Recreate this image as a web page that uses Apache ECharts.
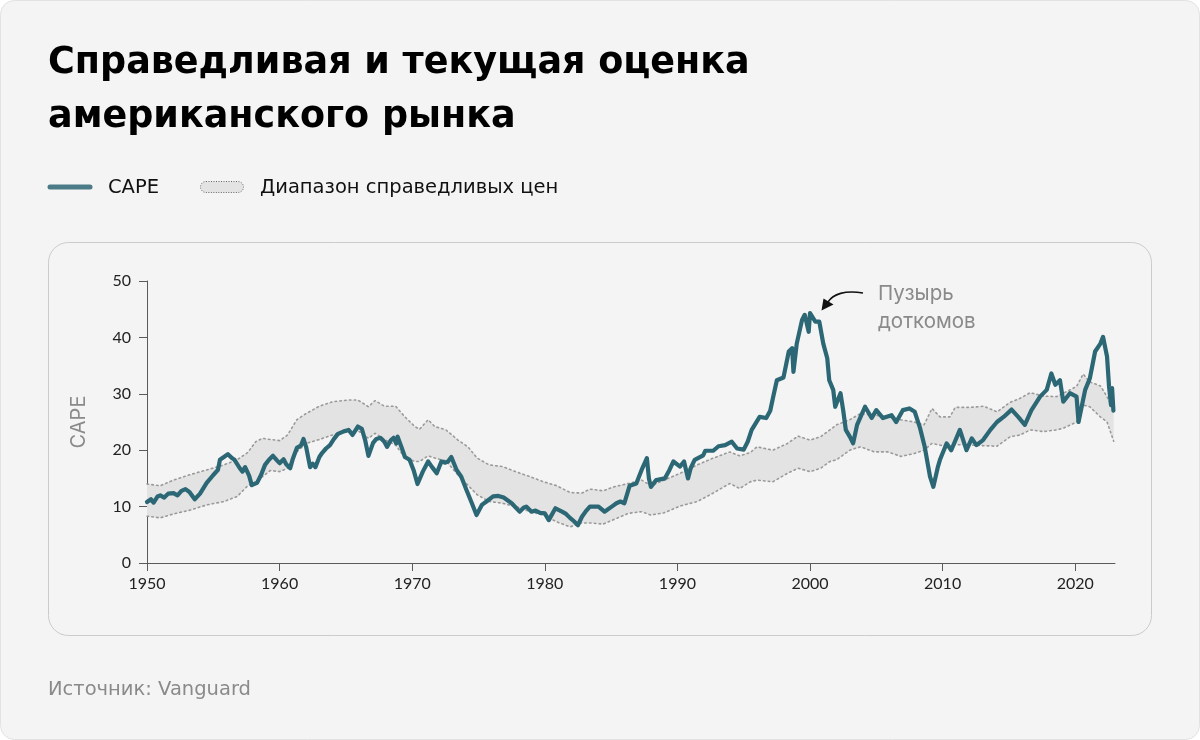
<!DOCTYPE html>
<html>
<head>
<meta charset="utf-8">
<script src="https://cdn.jsdelivr.net/npm/echarts@6/dist/echarts.min.js"></script>
<style>
  html, body { margin: 0; padding: 0; background: #ffffff; }
  #chart { width: 1200px; height: 740px; }
</style>
</head>
<body>
<div id="chart"></div>
<script>
// ---- Data ----
const titleLines = ['Справедливая и текущая оценка', 'американского рынка'];
const legendLabels = ['CAPE', 'Диапазон справедливых цен'];
const yAxisName = 'CAPE';
const annotationLines = ['Пузырь', 'доткомов'];
const sourceText = 'Источник: Vanguard';

const xTicks = [1950, 1960, 1970, 1980, 1990, 2000, 2010, 2020];
const yTicks = [0, 10, 20, 30, 40, 50];

const capeYears = [
  1950.0, 1950.3, 1950.5, 1950.8, 1951.0, 1951.3, 1951.6, 1952.0, 1952.3, 1952.6,
  1952.9, 1953.2, 1953.6, 1954.0, 1954.5, 1955.0, 1955.35, 1955.5, 1955.8, 1956.1,
  1956.4, 1956.6, 1957.0, 1957.2, 1957.4, 1957.7, 1957.9, 1958.3, 1958.6, 1958.9,
  1959.2, 1959.5, 1959.8, 1960.0, 1960.3, 1960.5, 1960.8, 1961.0, 1961.3, 1961.6,
  1961.8, 1962.0, 1962.3, 1962.5, 1962.7, 1963.0, 1963.2, 1963.5, 1963.8, 1964.1,
  1964.4, 1964.8, 1965.2, 1965.5, 1965.9, 1966.2, 1966.45, 1966.7, 1967.05, 1967.3,
  1967.6, 1967.9, 1968.1, 1968.4, 1968.6, 1968.8, 1968.9, 1969.2, 1969.45, 1969.8,
  1970.1, 1970.4, 1970.8, 1971.2, 1971.5, 1971.85, 1972.2, 1972.5, 1972.7, 1972.95,
  1973.35, 1973.7, 1974.1, 1974.5, 1974.85, 1975.25, 1975.6, 1976.1, 1976.5, 1976.9,
  1977.5, 1978.1, 1978.4, 1978.6, 1979.0, 1979.3, 1979.65, 1980.0, 1980.3, 1980.8,
  1981.3, 1981.6, 1981.9, 1982.2, 1982.5, 1982.8, 1983.1, 1983.4, 1984.05, 1984.5,
  1985.05, 1985.4, 1985.7, 1986.0, 1986.4, 1986.9, 1987.3, 1987.7, 1987.85, 1988.0,
  1988.4, 1989.05, 1989.4, 1989.7, 1990.2, 1990.5, 1990.8, 1991.0, 1991.3, 1991.95,
  1992.1, 1992.7, 1993.1, 1993.6, 1994.1, 1994.5, 1995.0, 1995.3, 1995.6, 1996.2,
  1996.7, 1997.0, 1997.2, 1997.5, 1998.0, 1998.4, 1998.65, 1998.75, 1999.0, 1999.4,
  1999.6, 1999.9, 2000.0, 2000.4, 2000.7, 2001.0, 2001.3, 2001.45, 2001.75, 2001.9,
  2002.3, 2002.5, 2002.7, 2003.0, 2003.25, 2003.55, 2004.15, 2004.65, 2005.0, 2005.5,
  2006.15, 2006.5, 2007.0, 2007.5, 2007.9, 2008.3, 2008.65, 2009.05, 2009.3, 2009.65,
  2009.8, 2010.3, 2010.65, 2011.3, 2011.8, 2012.2, 2012.55, 2013.05, 2013.6, 2014.1,
  2014.6, 2015.2, 2015.7, 2016.2, 2016.7, 2017.35, 2017.85, 2018.2, 2018.5, 2018.85,
  2019.1, 2019.6, 2020.1, 2020.25, 2020.75, 2021.1, 2021.5, 2021.9, 2022.1, 2022.4,
  2022.55, 2022.7, 2022.78, 2022.88
];
const capeValues = [
  10.8, 11.3, 10.7, 11.8, 12.0, 11.6, 12.3, 12.4, 12.0, 12.8,
  13.1, 12.6, 11.3, 12.3, 14.2, 15.6, 16.5, 18.3, 18.8, 19.3,
  18.6, 18.3, 16.8, 16.2, 17.0, 15.5, 13.8, 14.2, 15.6, 17.4,
  18.3, 19.0, 18.2, 17.7, 18.4, 17.5, 16.8, 18.5, 20.4, 20.8,
  22.0, 20.6, 17.0, 17.6, 17.0, 18.8, 19.5, 20.3, 20.9, 22.0,
  22.9, 23.3, 23.6, 22.7, 24.2, 23.8, 21.8, 19.0, 21.3, 22.0,
  22.2, 21.5, 20.6, 21.8, 22.2, 21.2, 22.4, 20.5, 18.8, 18.3,
  16.5, 14.0, 16.2, 18.0, 17.0, 15.9, 18.0, 17.8, 18.0, 18.8,
  16.5, 15.3, 12.9, 10.6, 8.5, 10.3, 10.9, 11.8, 11.9, 11.6,
  10.6, 9.1, 9.8, 10.0, 9.1, 9.3, 8.9, 8.8, 7.6, 9.7,
  9.1, 8.7, 8.0, 7.4, 6.7, 8.2, 9.2, 10.0, 10.0, 9.1,
  10.0, 10.6, 10.9, 10.6, 13.7, 14.1, 16.5, 18.6, 15.0, 13.5,
  14.7, 15.0, 16.5, 18.0, 17.1, 18.0, 15.0, 16.8, 18.3, 19.1,
  19.9, 19.9, 20.7, 20.9, 21.5, 20.3, 20.1, 21.5, 23.6, 25.9,
  25.7, 27.0, 29.2, 32.4, 32.9, 37.5, 38.1, 33.9, 38.9, 43.1,
  44.0, 41.0, 44.3, 42.8, 42.8, 38.9, 36.3, 32.4, 30.7, 27.7,
  30.1, 27.1, 23.6, 22.4, 21.2, 24.5, 27.7, 25.7, 27.1, 25.7,
  26.2, 25.0, 27.1, 27.4, 26.8, 23.9, 20.6, 15.3, 13.5, 17.1,
  18.3, 21.2, 20.0, 23.6, 20.0, 22.1, 20.9, 21.8, 23.6, 25.0,
  25.9, 27.2, 25.9, 24.5, 27.1, 29.5, 30.7, 33.6, 31.6, 32.4,
  28.6, 30.1, 29.5, 25.0, 30.7, 32.7, 37.5, 38.9, 40.1, 36.6,
  31.3, 28.0, 31.0, 27.0
];

const bandYears = [
  1950.0, 1951.0, 1952.0, 1953.3, 1954.5, 1955.8, 1956.8, 1957.6, 1958.2, 1958.7,
  1959.3, 1960.0, 1960.6, 1961.3, 1962.0, 1963.0, 1964.0, 1965.2, 1965.9, 1966.7,
  1967.2, 1967.9, 1968.75, 1969.45, 1970.2, 1970.55, 1971.2, 1971.7, 1972.55, 1973.45,
  1974.2, 1974.9, 1975.8, 1976.8, 1977.8, 1978.9, 1979.9, 1980.9, 1981.9, 1982.8,
  1983.4, 1984.4, 1985.2, 1986.3, 1987.3, 1988.0, 1989.0, 1990.2, 1991.5, 1992.7,
  1993.95, 1994.7, 1995.5, 1996.0, 1997.2, 1998.3, 1999.1, 2000.0, 2000.8, 2001.5,
  2002.0, 2003.0, 2003.8, 2004.85, 2005.85, 2006.85, 2007.85, 2008.6, 2009.2, 2009.8,
  2010.55, 2010.95, 2012.1, 2013.1, 2014.1, 2015.1, 2015.85, 2016.6, 2017.6, 2018.6,
  2019.1, 2020.1, 2020.6, 2021.1, 2021.9, 2022.4, 2022.9
];
const bandLower = [
  8.3, 8.0, 8.7, 9.4, 10.3, 10.9, 11.8, 13.7, 14.4, 15.3,
  16.4, 16.2, 16.8, 19.7, 21.2, 21.9, 22.7, 23.3, 23.5, 22.1,
  23.0, 21.9, 20.9, 18.7, 18.0, 18.0, 19.0, 18.6, 18.1, 15.6,
  13.8, 12.1, 10.9, 10.6, 10.0, 9.1, 8.5, 7.3, 6.4, 7.1,
  7.1, 6.9, 7.7, 8.8, 9.1, 8.5, 8.9, 10.1, 10.9, 12.4,
  14.1, 13.2, 14.4, 14.7, 14.4, 15.9, 16.8, 16.2, 16.8, 18.0,
  18.3, 20.0, 20.6, 19.7, 19.7, 18.9, 19.4, 20.0, 21.2, 20.9,
  20.6, 21.0, 20.9, 20.8, 20.7, 22.4, 22.7, 23.6, 23.3, 23.6,
  23.9, 25.0, 28.0, 27.7, 25.9, 25.0, 21.6
];
const bandUpper = [
  14.0, 13.7, 14.7, 15.7, 16.5, 17.4, 18.3, 19.6, 21.5, 22.1,
  21.9, 21.7, 22.7, 25.4, 26.5, 27.8, 28.6, 28.9, 28.9, 27.7,
  28.8, 27.8, 27.8, 25.9, 24.2, 23.7, 25.4, 24.2, 23.6, 21.8,
  20.6, 18.6, 17.4, 17.1, 16.2, 15.3, 14.4, 13.7, 12.5, 12.4,
  13.1, 12.8, 13.5, 14.1, 14.7, 13.7, 14.7, 15.9, 17.4, 18.6,
  19.7, 19.0, 19.6, 20.6, 20.0, 21.2, 22.5, 21.8, 22.4, 23.6,
  24.5, 25.4, 26.5, 26.2, 25.9, 25.4, 25.0, 24.5, 27.4, 25.9,
  25.9, 27.6, 27.6, 27.8, 26.8, 28.5, 29.2, 30.2, 29.6, 29.5,
  30.1, 31.3, 33.5, 32.1, 31.4, 29.5, 27.0
];

// ---- Styles ----
const CAPE_COLOR = '#2b6774';
const BAND_FILL = '#e3e3e3';
const BAND_LINE = '#9a9a9a';
const BG = '#f4f4f4';
const MAIN_FONT = '"DejaVu Sans"';

const capeData = capeYears.map((x, i) => [x, capeValues[i]]);
const lowerData = bandYears.map((x, i) => [x, bandLower[i]]);
const upperData = bandYears.map((x, i) => [x, bandUpper[i]]);
const bandData = bandYears.map((x, i) => [x, bandLower[i], bandUpper[i]]);

const chart = echarts.init(document.getElementById('chart'), null, { renderer: 'canvas' });

const dotted = { color: BAND_LINE, width: 1.6, type: [1.6, 3.2], cap: 'round' };

const option = {
  animation: false,
  backgroundColor: 'transparent',
  grid: { left: 147, right: 85, top: 281, bottom: 177, containLabel: false },
  xAxis: {
    type: 'value', min: 1950, max: 2023, interval: 10,
    splitLine: { show: false },
    axisLine: { show: true, lineStyle: { color: '#5a5a5a', width: 1 } },
    axisTick: { show: true, length: 8, lineStyle: { color: '#5a5a5a' }, customValues: xTicks },
    axisLabel: { color: '#222', fontFamily: 'Lato', fontSize: 16, margin: 13, customValues: xTicks,
      formatter: v => String(v) }
  },
  yAxis: {
    type: 'value', min: 0, max: 50, interval: 10,
    name: yAxisName, nameLocation: 'middle', nameGap: 58, nameRotate: 90,
    nameTextStyle: { color: '#8a8a8a', fontFamily: 'Inter', fontSize: 20 },
    splitLine: { show: false },
    axisLine: { show: true, lineStyle: { color: '#5a5a5a', width: 1 } },
    axisTick: { show: true, length: 8, lineStyle: { color: '#5a5a5a' }, customValues: yTicks },
    axisLabel: { color: '#222', fontFamily: 'Lato', fontSize: 16, margin: 16, customValues: yTicks }
  },
  series: [
    {
      name: 'bandFill', type: 'custom', z: 1, silent: true,
      data: bandData,
      encode: { x: 0, y: [1, 2] },
      renderItem: function (params, api) {
        if (params.dataIndex !== 0) return;
        const pts = [];
        for (let i = 0; i < bandYears.length; i++) pts.push(api.coord([bandYears[i], bandUpper[i]]));
        for (let i = bandYears.length - 1; i >= 0; i--) pts.push(api.coord([bandYears[i], bandLower[i]]));
        return { type: 'polygon', shape: { points: pts }, style: { fill: BAND_FILL, stroke: null } };
      }
    },
    { name: 'upper', type: 'line', data: upperData, symbol: 'none', z: 2, silent: true, lineStyle: dotted },
    { name: 'lower', type: 'line', data: lowerData, symbol: 'none', z: 2, silent: true, lineStyle: dotted },
    {
      name: legendLabels[0], type: 'line', data: capeData, symbol: 'none', z: 3,
      lineStyle: { color: CAPE_COLOR, width: 4.2, join: 'round', cap: 'round' }
    }
  ],
  graphic: [
    { type: 'rect', z: -10, silent: true, shape: { x: 0.5, y: 0.5, width: 1199, height: 739, r: 14 },
      style: { fill: BG, stroke: '#e2e2e2', lineWidth: 1 } },
    { type: 'rect', z: -9, silent: true, shape: { x: 48.5, y: 242.5, width: 1103, height: 393, r: 20 },
      style: { fill: BG, stroke: '#cbcbcb', lineWidth: 1 } },
    { type: 'text', x: 48, y: 64, silent: true,
      style: { text: titleLines[0], font: 'bold 36.5px ' + MAIN_FONT, fill: '#000', verticalAlign: 'middle' } },
    { type: 'text', x: 48, y: 118, silent: true,
      style: { text: titleLines[1], font: 'bold 36.5px ' + MAIN_FONT, fill: '#000', verticalAlign: 'middle' } },
    // legend
    { type: 'line', silent: true, shape: { x1: 50, y1: 187, x2: 90, y2: 187 },
      style: { stroke: '#4a7b86', lineWidth: 5, lineCap: 'round' } },
    { type: 'text', x: 108, y: 188, silent: true,
      style: { text: legendLabels[0], font: '19.5px ' + MAIN_FONT, fill: '#111', verticalAlign: 'middle' } },
    { type: 'rect', silent: true, shape: { x: 200.5, y: 181.5, width: 43, height: 11, r: 5.5 },
      style: { fill: BAND_FILL, stroke: '#666', lineWidth: 1, lineDash: [1, 1.5] } },
    { type: 'text', x: 260, y: 188, silent: true,
      style: { text: legendLabels[1], font: '19.5px ' + MAIN_FONT, fill: '#111', verticalAlign: 'middle' } },
    // annotation
    { type: 'text', x: 878, y: 294, silent: true,
      style: { text: annotationLines[0], font: '20.5px Inter', fill: '#8a8a8a', verticalAlign: 'middle' } },
    { type: 'text', x: 878, y: 322, silent: true,
      style: { text: annotationLines[1], font: '20.5px Inter', fill: '#8a8a8a', verticalAlign: 'middle' } },
    { type: 'bezierCurve', silent: true,
      shape: { x1: 863, y1: 293, cpx1: 845, cpy1: 290, cpx2: 833, cpy2: 294, x2: 828, y2: 302 },
      style: { stroke: '#111', lineWidth: 1.6, fill: null } },
    { type: 'polygon', silent: true,
      shape: { points: [[821.5, 310.5], [823.5, 298.5], [833.5, 304.5]] },
      style: { fill: '#111' } },
    // source
    { type: 'text', x: 48, y: 690, silent: true,
      style: { text: sourceText, font: '19.5px ' + MAIN_FONT, fill: '#8a8a8a', verticalAlign: 'middle' } }
  ]
};

chart.setOption(option);
</script>
</body>
</html>
